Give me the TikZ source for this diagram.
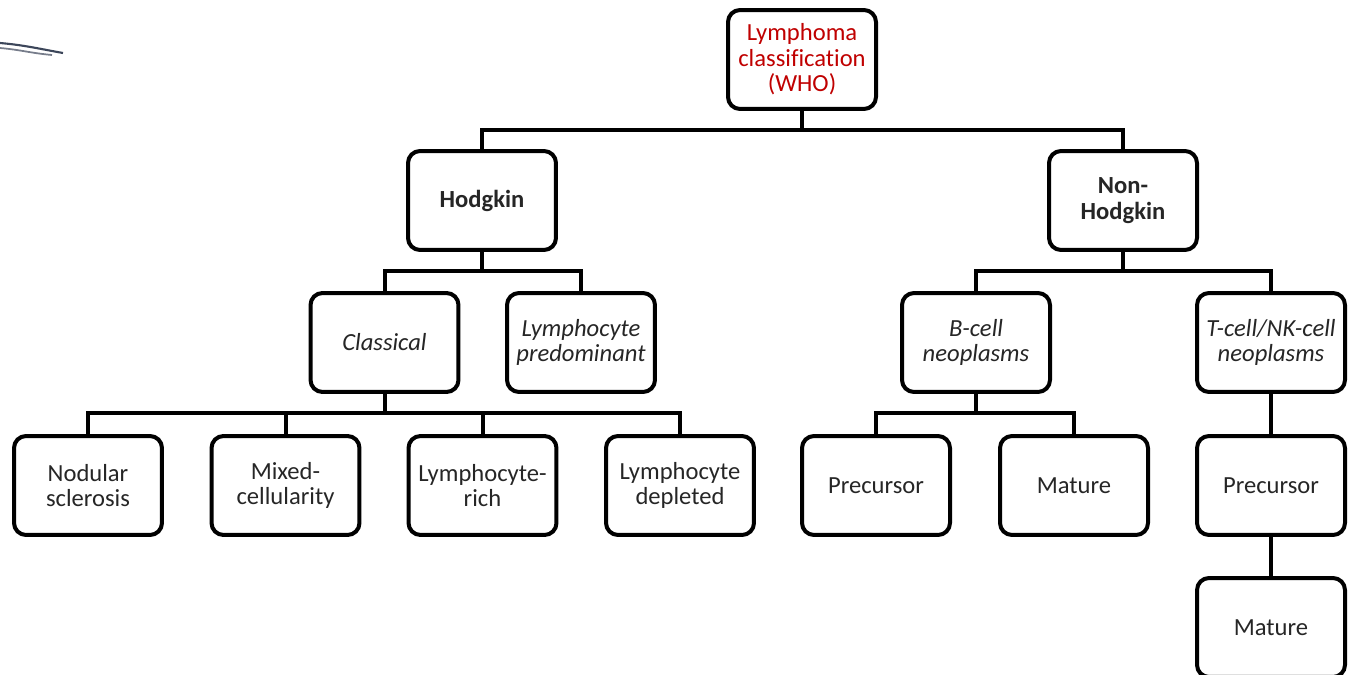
\documentclass[tikz,border=0pt]{standalone}
\usepackage{fontspec}
\setmainfont[Ligatures=NoCommon]{Carlito}
\definecolor{whored}{RGB}{192,0,0}
\definecolor{swoosh}{RGB}{60,70,90}
\begin{document}
\begin{tikzpicture}[x=0.02cm,y=-0.02cm,
        box/.style={draw,line width=0.08cm,rounded corners=0.24cm,fill=white,
                minimum width=2.96cm,minimum height=1.98cm,align=center,inner sep=1pt,
                text=black!85,font=\fontsize{14}{14.5}\selectfont},
        head/.style={box,font=\fontsize{14}{14.5}\selectfont\bfseries},
        kind/.style={box,font=\fontsize{14}{14.5}\selectfont\itshape},
        link/.style={line width=0.08cm}]
        \useasboundingbox (0,0) rectangle (1354,675);
        % stray swoosh top left
        \draw[swoosh,line width=1.2pt] (0,43) to [out=-5, in=170] (63,53);
        \draw[swoosh!70,line width=1pt] (0,48) to [out=-5, in=175] (52,55);
        % top
        \node[box,text=whored] (who) at (802,59.5) {Lymphoma\\classification\\(WHO)};
        \node[head] (hod) at (482,200.5) {Hodgkin};
        \node[head] (nhod) at (1123,200.5) {Non-\\Hodgkin};
        % second level
        \node[kind] (clas) at (384.5,342.5) {Classical};
        \node[kind] (lpre) at (581,342.5) {Lymphocyte\\predominant};
        \node[kind] (bcel) at (976,342.5) {B-cell\\neoplasms};
        \node[kind] (tnk) at (1271,342.5) {T-cell/NK-cell\\neoplasms};
        % leaves
        \node[box] (nods) at (88,485.5) {Nodular\\sclerosis};
        \node[box] (mixc) at (285.5,485.5) {Mixed-\\cellularity};
        \node[box] (lric) at (482.5,485.5) {Lymphocyte-\\rich};
        \node[box] (ldep) at (680,485.5) {Lymphocyte\\depleted};
        \node[box] (bpre) at (876,485.5) {Precursor};
        \node[box] (bmat) at (1074,485.5) {Mature};
        \node[box] (tpre) at (1271,485.5) {Precursor};
        \node[box] (tmat) at (1271,627.5) {Mature};
        % connectors
        \coordinate (b0) at (802,130);
        \coordinate (b1) at (482,271);
        \coordinate (b2) at (1123,271);
        \coordinate (b3) at (384.5,413);
        \coordinate (b4) at (976,413);
        \draw[link] (who.south) -- (b0);
        \draw[link] (hod.north) |- (b0) -| (nhod.north);
        \draw[link] (hod.south) -- (b1);
        \draw[link] (clas.north) |- (b1) -| (lpre.north);
        \draw[link] (nhod.south) -- (b2);
        \draw[link] (bcel.north) |- (b2) -| (tnk.north);
        \draw[link] (clas.south) -- (b3);
        \draw[link] (nods.north) |- (b3) -| (ldep.north);
        \draw[link] (mixc.north) -- (mixc.north |- b3);
        \draw[link] (lric.north) -- (lric.north |- b3);
        \draw[link] (bcel.south) -- (b4);
        \draw[link] (bpre.north) |- (b4) -| (bmat.north);
        \draw[link] (tnk.south) -- (tpre.north);
        \draw[link] (tpre.south) -- (tmat.north);
\end{tikzpicture}
\end{document}
